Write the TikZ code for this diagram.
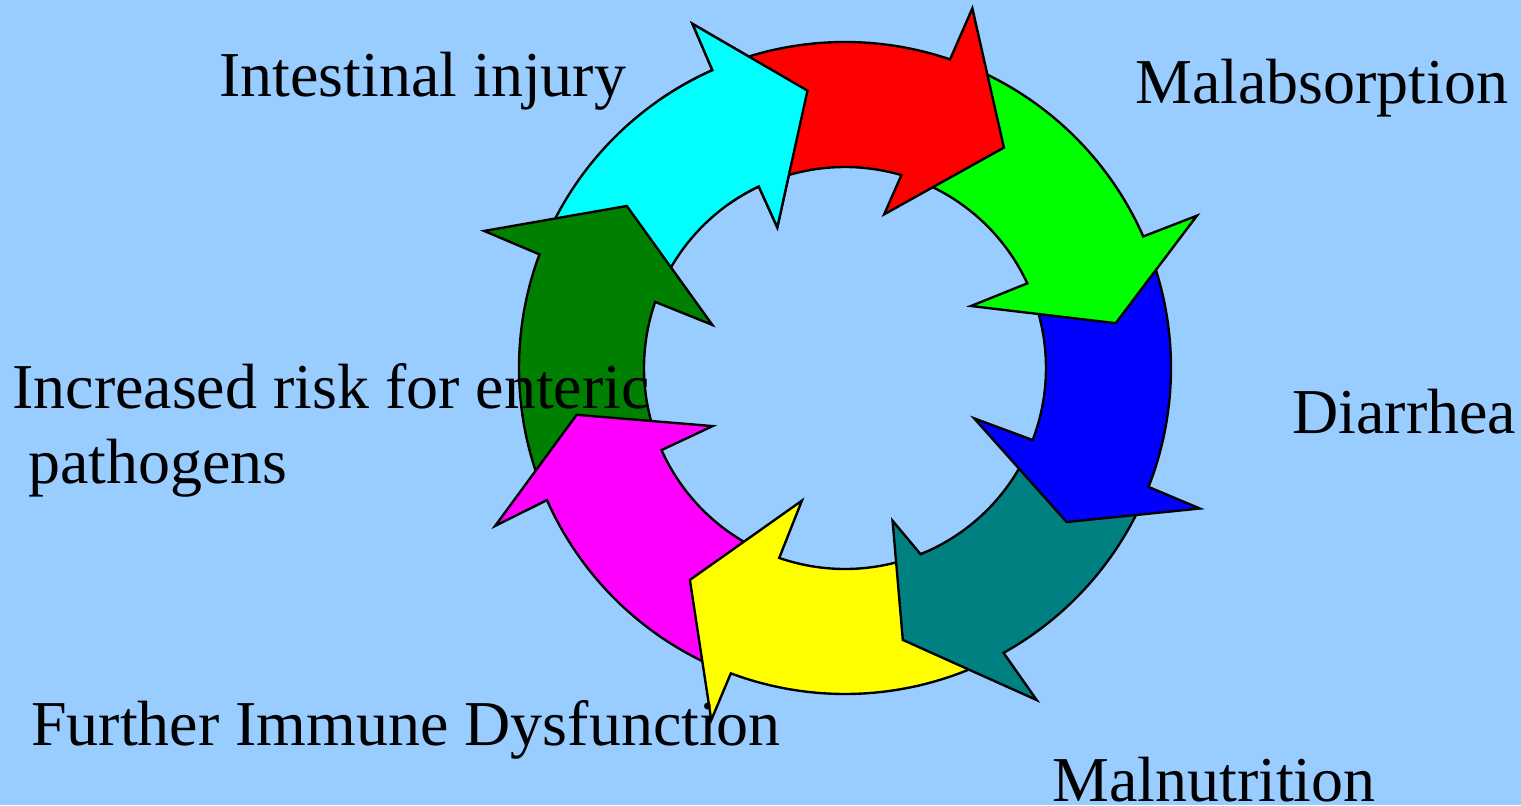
\documentclass[tikz,border=0pt]{standalone}
\usepackage{fontspec}
\setmainfont{Liberation Serif}
\usepackage{tikz}

\tikzset{
  cyclearrow/.style={draw=black, line width=1.35pt, line join=miter},
  cyclelabel/.style={anchor=base west, inner sep=0pt, align=left,
    font=\fontsize{36.4}{42.3}\selectfont}
}

\begin{document}
\begin{tikzpicture}[x=0.02cm, y=0.02cm]
% Changing colors
\definecolor{r153g204b255}{rgb}{0.600000,0.800000,1.000000}%
\definecolor{r255g0b0}{rgb}{1.000000,0.000000,0.000000}%
\definecolor{r0g255b0}{rgb}{0.000000,1.000000,0.000000}%
\definecolor{r0g0b255}{rgb}{0.000000,0.000000,1.000000}%
\definecolor{r0g128b128}{rgb}{0.000000,0.501961,0.501961}%
\definecolor{r255g255b0}{rgb}{1.000000,1.000000,0.000000}%
\definecolor{r255g0b255}{rgb}{1.000000,0.000000,1.000000}%
\definecolor{r0g128b0}{rgb}{0.000000,0.501961,0.000000}%
\definecolor{r0g255b255}{rgb}{0.000000,1.000000,1.000000}%

% Drawing background
\fill[r153g204b255] (-845,-437) rectangle (676,368);
\useasboundingbox (-845,-437) rectangle (676,368);

% Drawing arrow cyan (its head is drawn again at the end)
\draw[cyclearrow, fill=r0g255b255] (155:201) -- (155:326) arc[start angle=155, end angle=114.0, radius=326] -- (113.9:376.4) -- (97.7:279.9) -- (115.7:156.1) -- (115.4:201) arc[start angle=115.4, end angle=155, radius=201] -- cycle;%
% Drawing arrow dark green
\draw[cyclearrow, fill=r0g128b0] (200:201) -- (200:326) arc[start angle=200, end angle=159.6, radius=326] -- (159.2:386) -- (143.4:271.8) -- (162.0:139.5) -- (160.8:201) arc[start angle=160.8, end angle=200, radius=201] -- cycle;%
% Drawing arrow magenta
\draw[cyclearrow, fill=r255g0b255] (-114:201) -- (-114:326) arc[start angle=-114, end angle=-156.1, radius=326] -- (-155.7:383.9) -- (-170.1:272.4) -- (-156.3:144.5) -- (-155.9:201) arc[start angle=-155.9, end angle=-114, radius=201] -- cycle;%
% Drawing arrow yellow
\draw[cyclearrow, fill=r255g255b0] (-66:201) -- (-66:326) arc[start angle=-66, end angle=-110.5, radius=326] -- (-110.8:376.6) -- (-126.2:262.6) -- (-108.0:139.5) -- (-109.1:201) arc[start angle=-109.1, end angle=-66, radius=201] -- cycle;%
% Drawing arrow teal
\draw[cyclearrow, fill=r0g128b128] (-25:201) -- (-25:326) arc[start angle=-25, end angle=-60.9, radius=326] -- (-60.0:383.4) -- (-78.0:278) -- (-72.7:160) -- (-67.9:201) arc[start angle=-67.9, end angle=-25, radius=201] -- cycle;%
% Drawing arrow blue
\draw[cyclearrow, fill=r0g0b255] (20:201) -- (20:326) arc[start angle=20, end angle=-21.4, radius=326] -- (-21.6:381.7) -- (-34.8:269.9) -- (-21.3:138.7) -- (-21.0:201) arc[start angle=-21.0, end angle=20, radius=201] -- cycle;%
% Drawing arrow green
\draw[cyclearrow, fill=r0g255b0] (67:201) -- (67:326) arc[start angle=67, end angle=23.8, radius=326] -- (23.4:383.5) -- (9.4:274.4) -- (26.2:140.4) -- (24.9:201) arc[start angle=24.9, end angle=67, radius=201] -- cycle;%
% Drawing arrow red
\draw[cyclearrow, fill=r255g0b0] (110:201) -- (110:326) arc[start angle=110, end angle=71.2, radius=326] -- (70.5:381.6) -- (54.2:271.7) -- (75.7:158.6) -- (73.7:201) arc[start angle=73.7, end angle=110, radius=201] -- cycle;%

% Drawing head of arrow cyan over tail of arrow red
\begin{scope}
  \clip (0,0) -- (88:450) arc[start angle=88, end angle=125, radius=450] -- cycle;
  \draw[cyclearrow, fill=r0g255b255] (155:201) -- (155:326) arc[start angle=155, end angle=114.0, radius=326] -- (113.9:376.4) -- (97.7:279.9) -- (115.7:156.1) -- (115.4:201) arc[start angle=115.4, end angle=155, radius=201] -- cycle;%
\end{scope}

% Drawing labels
\node[cyclelabel] (intestinal) at (-626,271) {Intestinal injury};%
\node[cyclelabel] (malabsorption) at (290,264) {Malabsorption};%
\node[cyclelabel] (diarrhea) at (447,-65) {Diarrhea};%
\node[cyclelabel] (malnutrition) at (207,-433) {Malnutrition};%
\node[cyclelabel] (dysfunction) at (-814,-377) {Further Immune Dysfunction};%
\node[cyclelabel] (risk) at (-833,-115) {Increased risk for enteric\\\hspace*{0.25em}pathogens};%
\end{tikzpicture}
\end{document}
